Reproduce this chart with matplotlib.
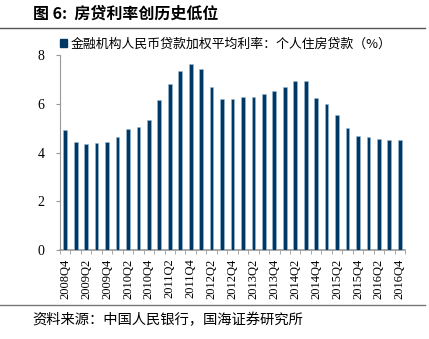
import numpy as np
import matplotlib
matplotlib.use("Agg")
import matplotlib.pyplot as plt
from matplotlib.lines import Line2D

# quarterly labels, 2008Q4 .. 2016Q4
quarters = ["2008Q4",
            "2009Q1", "2009Q2", "2009Q3", "2009Q4",
            "2010Q1", "2010Q2", "2010Q3", "2010Q4",
            "2011Q1", "2011Q2", "2011Q3", "2011Q4",
            "2012Q1", "2012Q2", "2012Q3", "2012Q4",
            "2013Q1", "2013Q2", "2013Q3", "2013Q4",
            "2014Q1", "2014Q2", "2014Q3", "2014Q4",
            "2015Q1", "2015Q2", "2015Q3", "2015Q4",
            "2016Q1", "2016Q2", "2016Q3", "2016Q4"]

# 个人住房贷款加权平均利率 (%)
rates = [4.93, 4.45, 4.34, 4.38, 4.42, 4.63, 4.96, 5.03, 5.34,
         6.16, 6.82, 7.36, 7.62, 7.42, 6.67, 6.20, 6.21, 6.27,
         6.27, 6.40, 6.52, 6.70, 6.92, 6.95, 6.23, 6.00, 5.52,
         5.01, 4.68, 4.63, 4.55, 4.52, 4.52]

title_txt = "图 6:  房贷利率创历史低位"
legend_txt = "金融机构人民币贷款加权平均利率：个人住房贷款（%）"
source_txt = "资料来源：中国人民银行，国海证券研究所"

cjk = ["Noto Sans CJK SC", "DejaVu Sans"]
serif = "Liberation Serif"
bar_col = "#003865"

fig = plt.figure(figsize=(4.29, 3.39), dpi=100)
ax = fig.add_axes([60/429, 89/339, 345/429, 195/339])

x = np.arange(len(quarters))
ax.bar(x, rates, width=0.36, color=bar_col, edgecolor="#9dbbd6",
       linewidth=0.4, zorder=3)

ax.set_xlim(-0.5, len(quarters) - 0.5)
ax.set_ylim(0, 8)
ax.set_yticks([0, 2, 4, 6, 8])
ax.set_yticklabels(["0", "2", "4", "6", "8"], fontfamily=serif, fontsize=10)
ax.tick_params(axis="y", length=3, color="#999999", pad=8)

ax.set_xticks(x[::2])
ax.set_xticklabels(quarters[::2], rotation=90, fontfamily=serif, fontsize=9)
ax.set_xticks(np.arange(-0.5, len(quarters)), minor=True)
ax.tick_params(axis="x", which="major", length=0, pad=6)
ax.tick_params(axis="x", which="minor", length=3, color="#999999")

for s in ["top", "right"]:
    ax.spines[s].set_visible(False)
ax.spines["left"].set_color("#999999")
ax.spines["bottom"].set_color("#999999")
ax.spines["bottom"].set_linewidth(1.2)

# legend
ax.legend([plt.Rectangle((0, 0), 1, 1, color=bar_col)], [legend_txt],
          loc="upper left", bbox_to_anchor=(0.0, 1.09), frameon=False,
          prop={"family": cjk, "size": 9.3}, handlelength=0.55,
          handleheight=0.55, handletextpad=0.25, borderaxespad=0,
          borderpad=0)

# title and rules
fig.text(33/429, 1 - 14/339, title_txt, fontsize=11.5, fontweight="bold",
         family=cjk, va="center", ha="left")
fig.add_artist(Line2D([0, 425/429], [1 - 28/339, 1 - 28/339],
                      color="#555555", linewidth=1.0))
fig.add_artist(Line2D([0, 425/429], [1 - 305/339, 1 - 305/339],
                      color="#777777", linewidth=1.0))
fig.text(32/429, 1 - 320/339, source_txt, fontsize=10.3, family=cjk,
         va="center", ha="left")

fig.savefig("out.png", dpi=100)
